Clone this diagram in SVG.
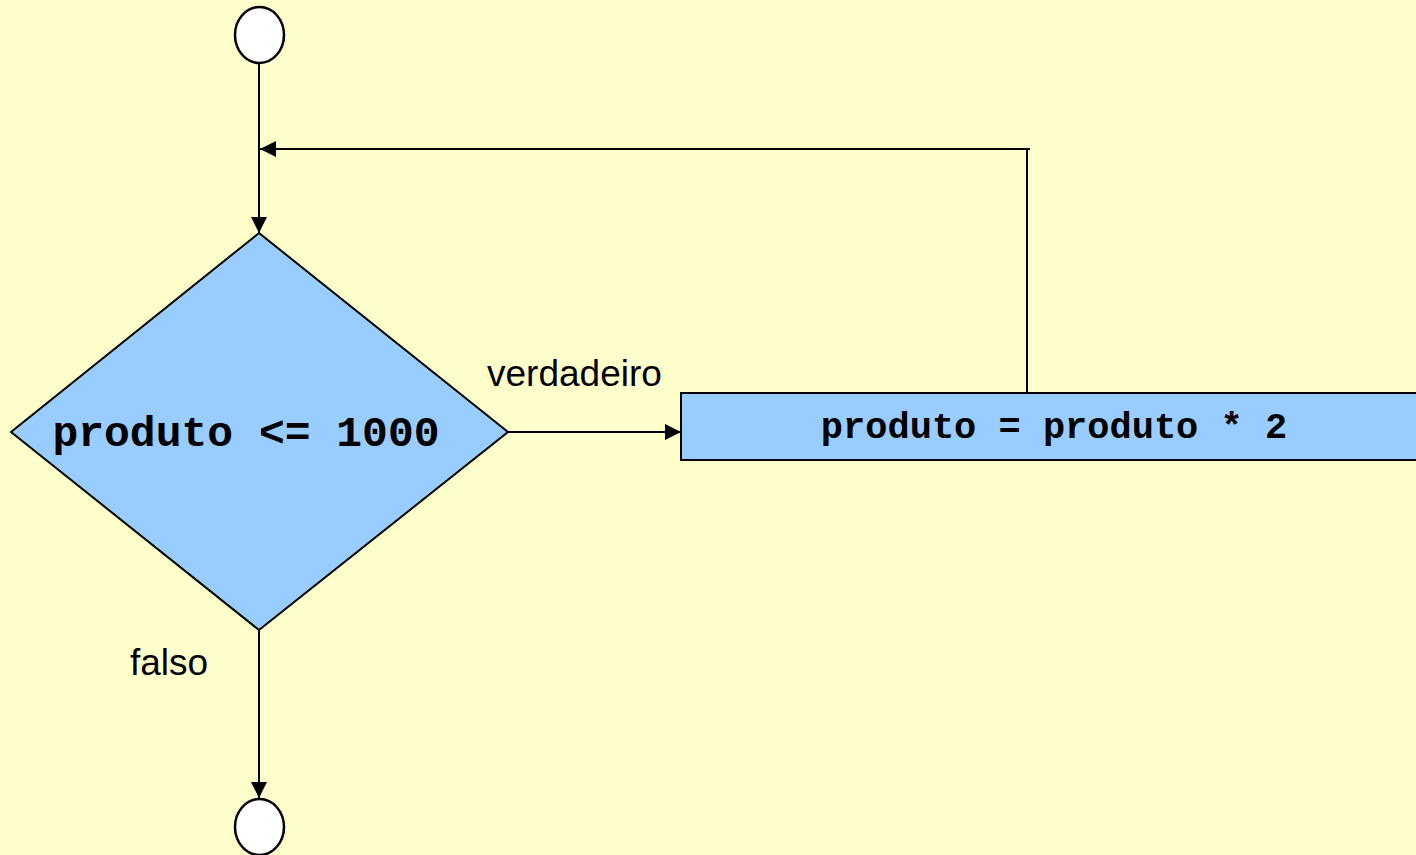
<svg xmlns="http://www.w3.org/2000/svg" width="1416" height="855" viewBox="0 0 1416 855">
  <style>
    .ln { stroke: #000; stroke-width: 2; fill: none; }
    .term { fill: #fff; stroke: #000; stroke-width: 2.5; }
    .proc { fill: #99ccff; stroke: #000; stroke-width: 2; }
    .code { font-family: "Liberation Mono", "Courier New", monospace; font-weight: bold; fill: #000; }
    .lbl { font-family: "Liberation Sans", Arial, sans-serif; font-size: 37px; fill: #000; }
  </style>
  <defs>
    <marker id="arr" viewBox="0 0 10 10" refX="10" refY="5" markerWidth="16" markerHeight="16" markerUnits="userSpaceOnUse" orient="auto">
      <path d="M0,0 L10,5 L0,10 Z" fill="#000"/>
    </marker>
  </defs>
  <rect width="1416" height="855" fill="#ffffcc"/>

  <g id="connectors">
    <line class="ln" x1="259" y1="63" x2="259" y2="233" marker-end="url(#arr)"/>
    <polyline class="ln" points="1027,393 1027,149"/>
    <line class="ln" x1="1030" y1="149" x2="260" y2="149" marker-end="url(#arr)"/>
    <line class="ln" x1="508" y1="432" x2="681" y2="432" marker-end="url(#arr)"/>
    <line class="ln" x1="259" y1="630" x2="259" y2="798" marker-end="url(#arr)"/>
    <text class="lbl" x="487" y="386">verdadeiro</text>
    <text class="lbl" x="130" y="675">falso</text>
  </g>

  <g id="start">
    <ellipse class="term" cx="259.5" cy="35" rx="24.5" ry="28"/>
  </g>

  <g id="decision">
    <polygon class="proc" points="259,233 508,432 259,630 11,432"/>
    <text class="code" x="246" y="446" font-size="43" text-anchor="middle">produto &lt;= 1000</text>
  </g>

  <g id="process">
    <rect class="proc" x="681" y="393" width="745" height="67"/>
    <text class="code" x="1054" y="438" font-size="37" text-anchor="middle">produto = produto * 2</text>
  </g>

  <g id="end">
    <ellipse class="term" cx="259.5" cy="827" rx="24.5" ry="28"/>
  </g>
</svg>
